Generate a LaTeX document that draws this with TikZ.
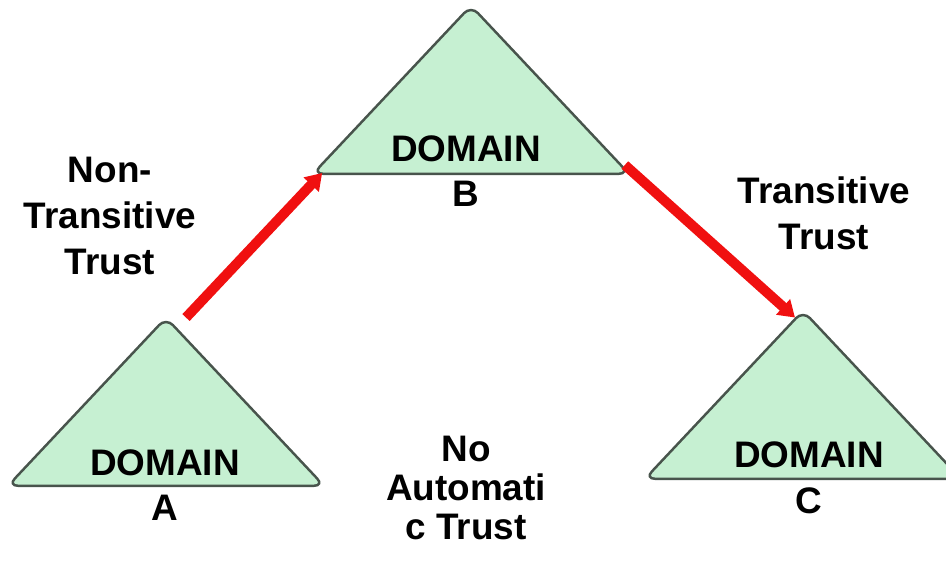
\documentclass[tikz,border=0pt]{standalone}
\usepackage{fontspec}
\setmainfont{Liberation Sans}
\usetikzlibrary{shapes.geometric,arrows.meta,calc}
\definecolor{domaingreen}{RGB}{198,240,210}
\definecolor{domainedge}{RGB}{72,84,76}
\definecolor{trustred}{RGB}{240,16,16}

\begin{document}
\begin{tikzpicture}[every node/.style={font=\fontsize{10.5}{13}\selectfont\bfseries, align=center}]
            \tikzstyle{domaintri}=[isosceles triangle, isosceles triangle stretches, shape border rotate=90, minimum width=3.16cm, minimum height=1.68cm, inner sep=0pt, fill=domaingreen, draw=domainedge, line width=0.7pt, rounded corners=0.1cm, anchor=lower side]
            \tikzstyle{trust}=[draw=trustred, line width=0.1cm, -{Triangle[length=0.16cm,width=0.2cm]}]

            \useasboundingbox (0,0) rectangle (9.46,5.62);
            \clip (0,0) rectangle (9.46,5.62);

            \node[domaintri] (a) at (1.66,0.75) {};
            \node[domaintri] (b) at (4.71,3.87) {};
            \node[domaintri] (c) at (8.03,0.82) {};

            \node (la) at (1.65,0.77) {DOMAIN\\A};
            \node (lb) at (4.66,3.91) {DOMAIN\\B};
            \node (lc) at (8.09,0.84) {DOMAIN\\C};

            \node (nontrans) at (1.10,3.46) {Non-\\Transitive\\Trust};
            \node (trans) at (8.24,3.49) {Transitive\\Trust};
            \node[font=\fontsize{10.5}{11.2}\selectfont\bfseries] (noauto) at (4.66,0.74) {No\\Automati\\c Trust};

            \draw[trust] ($(a.apex)+(0.2,-0.03)$) -- ($(b.left corner)+(0.12,0.02)$);
            \draw[trust] ($(b.right corner)+(-0.07,0.1)$) -- ($(c.apex)+(-0.08,-0.1)$);
        \end{tikzpicture}
\end{document}
